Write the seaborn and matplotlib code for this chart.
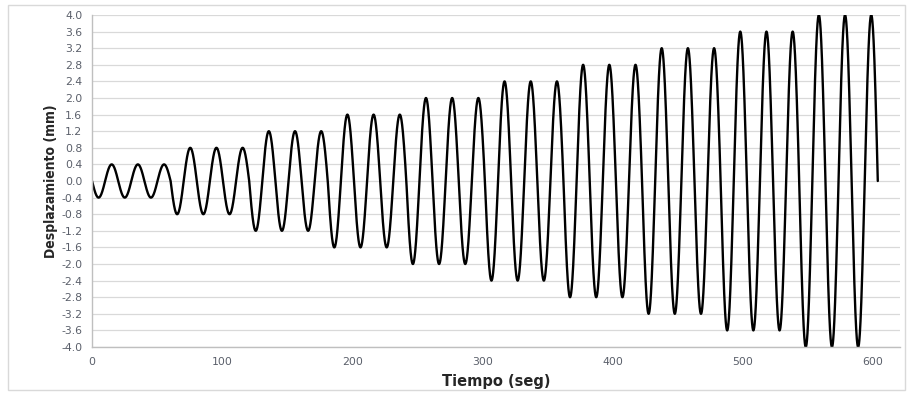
import matplotlib
matplotlib.use("Agg")
import matplotlib.pyplot as plt
import numpy as np
import pandas as pd
import seaborn as sns

# loading protocol: 10 amplitude steps, 3 cycles each
amplitudes_mm = [0.4, 0.8, 1.2, 1.6, 2.0, 2.4, 2.8, 3.2, 3.6, 4.0]
cycles_per_step = 3
cycle_period_s = 20.13
y_ticks = [-4.0, -3.6, -3.2, -2.8, -2.4, -2.0, -1.6, -1.2, -0.8, -0.4,
           0.0, 0.4, 0.8, 1.2, 1.6, 2.0, 2.4, 2.8, 3.2, 3.6, 4.0]
x_ticks = [0, 100, 200, 300, 400, 500, 600]

pts_per_cycle = 200
phase = np.linspace(0, 1, pts_per_cycle, endpoint=False)
t_parts, d_parts = [], []
for i, amp in enumerate(amplitudes_mm):
    for c in range(cycles_per_step):
        k = i * cycles_per_step + c
        t_parts.append((k + phase) * cycle_period_s)
        d_parts.append(-amp * np.sin(2 * np.pi * phase))
n_total = len(amplitudes_mm) * cycles_per_step
t_parts.append(np.array([n_total * cycle_period_s]))
d_parts.append(np.array([0.0]))
df = pd.DataFrame({"t": np.concatenate(t_parts), "d": np.concatenate(d_parts)})

sns.set_style("white")
fig = plt.figure(figsize=(9.13, 3.94), dpi=100)
ax = fig.add_axes([0.1008, 0.1193, 0.885, 0.8426])

sns.lineplot(data=df, x="t", y="d", ax=ax, color="black", linewidth=1.7,
             sort=False, estimator=None)

ax.set_xlim(0, 621)
ax.set_ylim(-4.0, 4.0)
ax.set_xticks(x_ticks)
ax.set_yticks(y_ticks)
ax.set_yticklabels([f"{v:.1f}" for v in y_ticks])
ax.tick_params(axis="both", length=0, labelsize=7.8, labelcolor="#5a5f6a", pad=7)
ax.yaxis.grid(True, color="#d9d9d9", linewidth=0.9)
ax.set_axisbelow(True)
for side in ["top", "right"]:
    ax.spines[side].set_visible(False)
for side in ["left", "bottom"]:
    ax.spines[side].set_color("#bfbfbf")
    ax.spines[side].set_linewidth(1.0)

ax.set_xlabel("Tiempo (seg)", fontsize=10.5, fontweight="bold", labelpad=5)
ax.set_ylabel("Desplazamiento (mm)", fontsize=10, fontweight="bold",
              fontstretch="condensed", labelpad=2)

# thin light frame around the whole chart
frame = plt.Rectangle((0.009, 0.01), 0.982, 0.978, transform=fig.transFigure,
                      fill=False, edgecolor="#d9d9d9", linewidth=1.0)
fig.patches.append(frame)

fig.savefig("out.png", dpi=100)
